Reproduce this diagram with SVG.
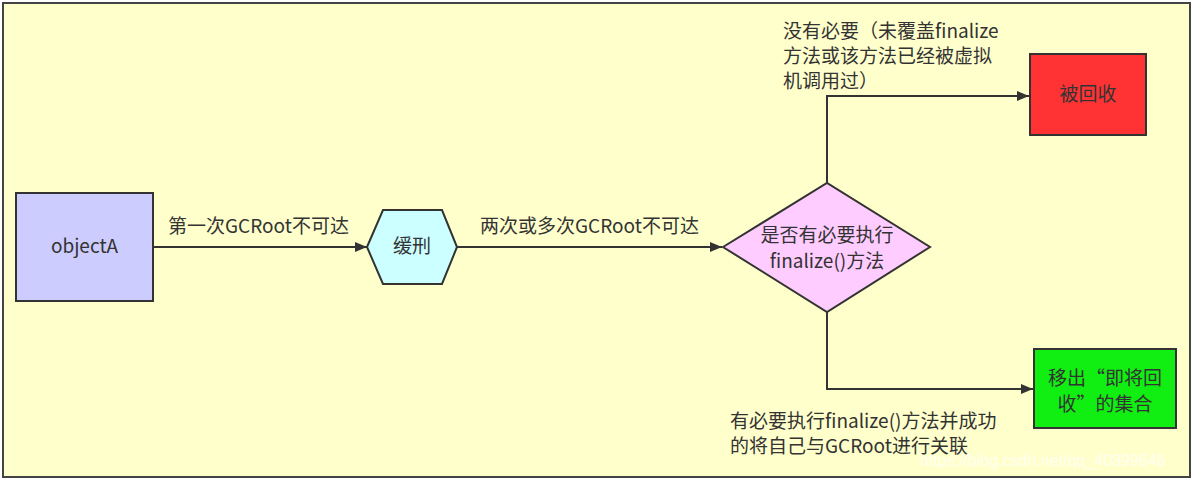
<svg xmlns="http://www.w3.org/2000/svg" width="1194" height="480" viewBox="0 0 1194 480">
<defs>
<marker id="arr" viewBox="0 0 12 10" refX="12" refY="5" markerWidth="12" markerHeight="10" markerUnits="userSpaceOnUse" orient="auto">
<path d="M0,0 L12,5 L0,10 z" fill="#333"/>
</marker>
</defs>
<style>
text{font-family:"Noto Sans CJK SC","Noto Sans",sans-serif;fill:#333;font-size:19px}
.node{stroke:#333;stroke-width:2}
.edge{fill:none;stroke:#333;stroke-width:2;marker-end:url(#arr)}
.c{text-anchor:middle}
</style>
<rect x="0" y="0" width="1194" height="480" fill="#ffffff"/>
<rect id="frame" x="3" y="3" width="1187" height="474" fill="#ffffcc" stroke="#444" stroke-width="2"/>
<g id="connectors">
<line class="edge" x1="153" y1="247" x2="367" y2="247"/>
<text x="168" y="233">第一次GCRoot不可达</text>
<line class="edge" x1="457" y1="247" x2="722" y2="247"/>
<text x="480" y="233">两次或多次GCRoot不可达</text>
<polyline class="edge" points="827,183 827,96 1029,96"/>
<text x="783" y="38">没有必要（未覆盖finalize</text>
<text x="783" y="63">方法或该方法已经被虚拟</text>
<text x="783" y="88">机调用过）</text>
<polyline class="edge" points="827,312 827,389 1033,389"/>
<text x="730" y="428">有必要执行finalize()方法并成功</text>
<text x="730" y="453">的将自己与GCRoot进行关联</text>
</g>
<g id="objectA">
<rect class="node" x="16" y="193" width="137" height="108" fill="#ccccff"/>
<text class="c" x="84.5" y="253" font-size="17">objectA</text>
</g>
<g id="huanxing">
<polygon class="node" points="367,247 383,210 442,210 457,247 442,284 383,284" fill="#ccffff"/>
<text class="c" x="412" y="253" font-size="16">缓刑</text>
</g>
<g id="decision">
<polygon class="node" points="723,247 827,183 930,247 827,312" fill="#ffccff"/>
<text class="c" x="827" y="242" font-size="17">是否有必要执行</text>
<text class="c" x="827" y="268" font-size="17">finalize()方法</text>
</g>
<g id="recycled">
<rect class="node" x="1030" y="54" width="116" height="81" fill="#ff3333"/>
<text class="c" x="1088" y="101" font-size="17">被回收</text>
</g>
<g id="removed">
<rect class="node" x="1034" y="349" width="142" height="79" fill="#11ee11"/>
<text class="c" x="1105" y="385" font-size="18">移出“即将回</text>
<text class="c" x="1105" y="411" font-size="18">收”的集合</text>
</g>
<text x="920" y="466" style="fill:#ffffff;fill-opacity:0.75;font-family:'Liberation Sans',sans-serif;font-size:16px">https://blog.csdn.net/qq_40399646</text>
</svg>
